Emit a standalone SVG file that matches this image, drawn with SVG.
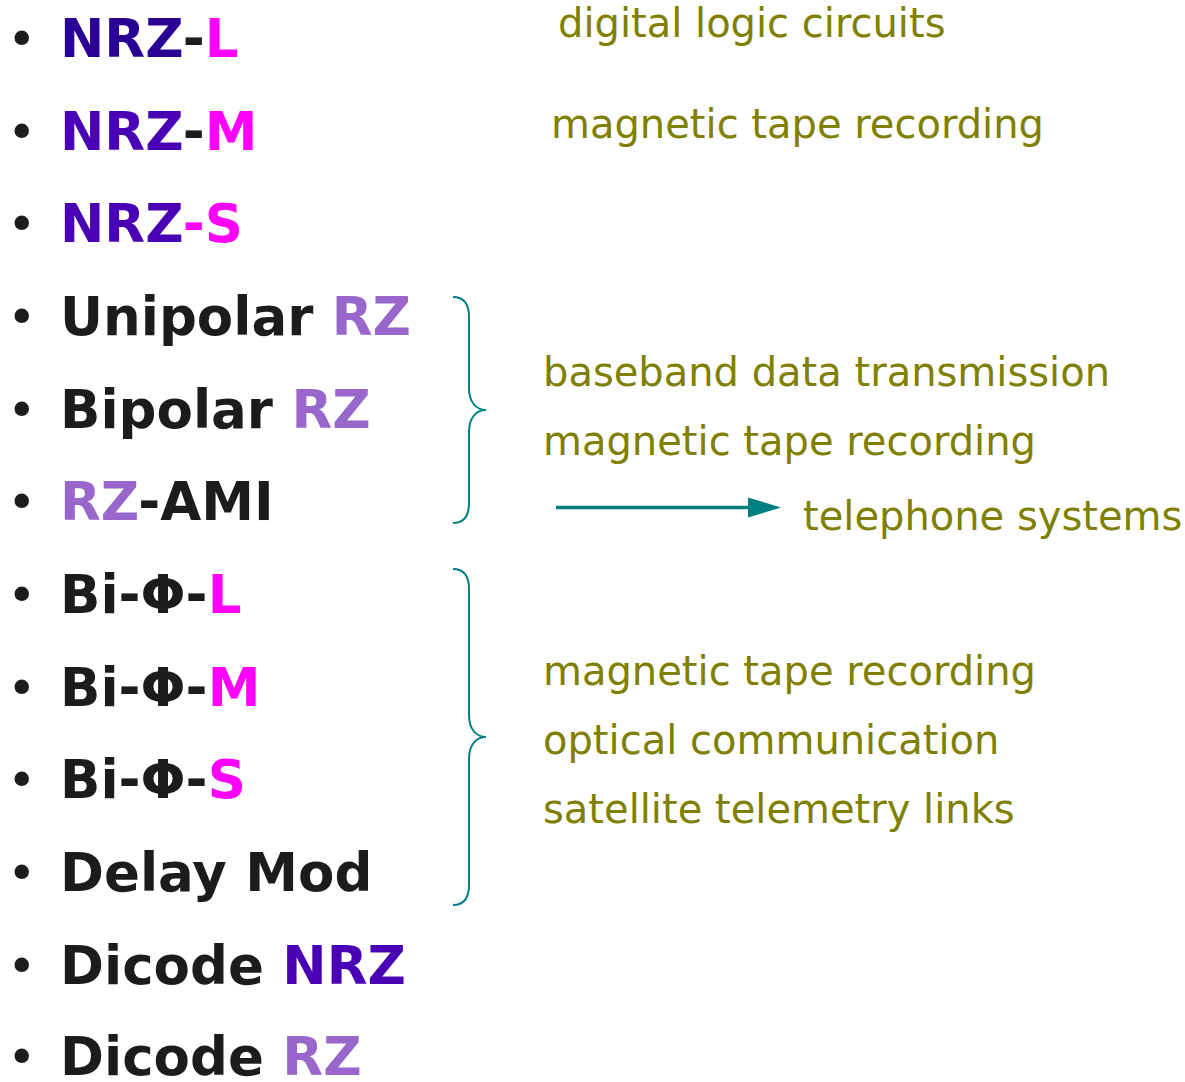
<svg xmlns="http://www.w3.org/2000/svg" width="1185" height="1082" viewBox="0 0 1185 1082">
<style>
.item{font-family:"DejaVu Sans",Verdana,sans-serif;font-weight:bold;font-size:53px;fill:#1c1c1c}
.bul{font-family:"DejaVu Sans",Verdana,sans-serif;font-size:50px;fill:#1c1c1c}
.d{fill:#2b0094}.n{fill:#4a00b4}.m{fill:#ff00ff}.r{fill:#9966cc}
.lbl{font-family:"DejaVu Sans",Verdana,sans-serif;font-size:40px;fill:#808000}
.brace{fill:none;stroke:#008080;stroke-width:2}
</style>
<rect width="1185" height="1082" fill="#ffffff"/>
<g id="n-nrzl"><text class="bul" x="7" y="56">•</text><text class="item" x="60" y="57"><tspan class="d">NRZ</tspan>-<tspan class="m">L</tspan></text></g>
<g id="n-nrzm"><text class="bul" x="7" y="148.5">•</text><text class="item" x="60" y="149.5"><tspan class="n">NRZ</tspan>-<tspan class="m">M</tspan></text></g>
<g id="n-nrzs"><text class="bul" x="7" y="241">•</text><text class="item" x="60" y="242"><tspan class="n">NRZ</tspan><tspan class="m">-S</tspan></text></g>
<g id="n-unipolar"><text class="bul" x="7" y="334">•</text><text class="item" x="60" y="335">Unipolar <tspan class="r">RZ</tspan></text></g>
<g id="n-bipolar"><text class="bul" x="7" y="426.5">•</text><text class="item" x="60" y="427.5">Bipolar <tspan class="r">RZ</tspan></text></g>
<g id="n-rzami"><text class="bul" x="7" y="519">•</text><text class="item" x="60" y="520"><tspan class="r">RZ</tspan>-AMI</text></g>
<g id="n-biphil"><text class="bul" x="7" y="612">•</text><text class="item" x="60" y="613">Bi-Φ-<tspan class="m">L</tspan></text></g>
<g id="n-biphim"><text class="bul" x="7" y="704.5">•</text><text class="item" x="60" y="705.5">Bi-Φ-<tspan class="m">M</tspan></text></g>
<g id="n-biphis"><text class="bul" x="7" y="797">•</text><text class="item" x="60" y="798">Bi-Φ-<tspan class="m">S</tspan></text></g>
<g id="n-delay"><text class="bul" x="7" y="890">•</text><text class="item" x="60" y="891">Delay Mod</text></g>
<g id="n-dicodenrz"><text class="bul" x="7" y="983">•</text><text class="item" x="60" y="984">Dicode <tspan class="n">NRZ</tspan></text></g>
<g id="n-dicoderz"><text class="bul" x="7" y="1074">•</text><text class="item" x="60" y="1075">Dicode <tspan class="r">RZ</tspan></text></g>

<g id="l-digital"><text class="lbl" x="558" y="37">digital logic circuits</text></g>
<g id="l-mag1"><text class="lbl" x="551" y="138">magnetic tape recording</text></g>
<g id="l-rzgroup">
<text class="lbl" x="543" y="386">baseband data transmission</text>
<text class="lbl" x="543" y="455">magnetic tape recording</text>
</g>
<g id="l-telephone"><text class="lbl" x="803" y="530">telephone systems</text></g>
<g id="l-biphigroup">
<text class="lbl" x="543" y="685">magnetic tape recording</text>
<text class="lbl" x="543" y="754">optical communication</text>
<text class="lbl" x="543" y="823">satellite telemetry links</text>
</g>

<g id="connectors">
<path class="brace" d="M453,297 C463,297 469,303 469,317 L469,388 C469,402 476,410 486,410 C476,410 469,418 469,432 L469,503 C469,517 463,523 453,523"/>
<path class="brace" d="M453,569 C463,569 469,575 469,589 L469,715 C469,729 476,737 486,737 C476,737 469,745 469,759 L469,885 C469,899 463,905 453,905"/>
<line x1="556" y1="507.5" x2="750" y2="507.5" stroke="#008080" stroke-width="3.5"/>
<path d="M748,497.5 L781,507.5 L748,517.5 z" fill="#008080"/>
</g>
</svg>
